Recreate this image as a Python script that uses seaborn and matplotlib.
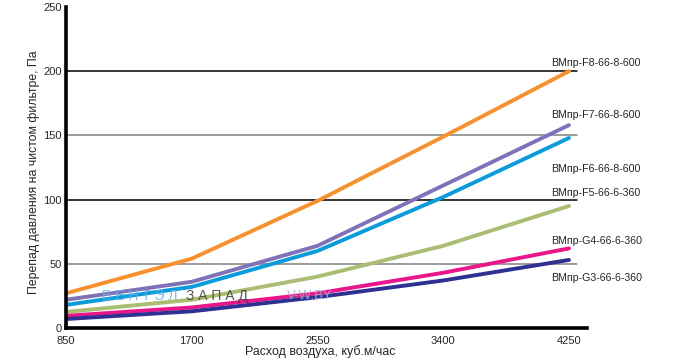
import matplotlib
matplotlib.use("Agg")
import matplotlib.pyplot as plt
import seaborn as sns
import pandas as pd

# air flow, m3/h
flow = [850, 1700, 2550, 3400, 4250]

# pressure drop on clean filter, Pa
f8 = [27, 54, 99, 149, 200]
f7 = [22, 36, 64, 111, 158]
f6 = [18, 32, 60, 102, 148]
f5 = [12.5, 22, 40, 64, 95]
g4 = [9.5, 16, 27, 43, 62]
g3 = [7, 13, 24, 37, 53]

models = ["ВМпр-F8-66-8-600", "ВМпр-F7-66-8-600", "ВМпр-F6-66-8-600",
          "ВМпр-F5-66-6-360", "ВМпр-G4-66-6-360", "ВМпр-G3-66-6-360"]
series = [f8, f7, f6, f5, g4, g3]
colors = ["#F7912F", "#7F72B8", "#0A9BDB", "#AABD72", "#E8168A", "#2E3192"]
# where each model name sits on the right (Pa)
label_y = [206, 166, 124, 105.5, 68, 39]

yticks = [0, 50, 100, 150, 200, 250]

df = pd.DataFrame({
    "flow": flow * len(models),
    "dp": [v for s in series for v in s],
    "model": [m for m in models for _ in flow],
})

sns.set_style("white")
plt.rcParams["font.family"] = ["Liberation Sans", "DejaVu Sans"]

fig = plt.figure(figsize=(6.79, 3.64), dpi=100)
ax = fig.add_axes([66 / 679, 1 - 328 / 364, (587 - 66) / 679, (328 - 7) / 364])

x_right = 4372
ax.set_xlim(850, x_right)
ax.set_ylim(0, 250)

# grid, alternating black / grey, ending a bit past the last point
grid_end = (4305 - 850) / (x_right - 850)
for v in [50, 100, 150, 200]:
    ax.axhline(v, xmin=0, xmax=grid_end, color="#808080" if v in (50, 150) else "black",
               lw=1.1, zorder=1)

# watermark
ax.text(1093, 25, "В Е Н Т Э Л", color="#6AAFE4", alpha=0.85, fontsize=10,
        va="center", zorder=3)
ax.text(1660, 25, "З А П А Д", color="#3A3A3A", alpha=0.85, fontsize=10,
        va="center", zorder=3)
ax.text(2345, 25, "V-W.BY", color="#A3B2CC", alpha=0.85, fontsize=9.5,
        va="center", zorder=3)

sns.lineplot(data=df, x="flow", y="dp", hue="model", hue_order=models,
             palette=colors, lw=2.8, legend=False, ax=ax, zorder=2)

for name, yv in zip(models, label_y):
    ax.text(4130, yv, name, fontsize=7.7, va="center", ha="left", clip_on=False)

ax.set_xticks(flow)
ax.set_yticks(yticks)
ax.tick_params(axis="x", direction="out", length=4, width=3, color="black",
               labelsize=8, pad=1.5)
ax.tick_params(axis="y", length=0, labelsize=8, pad=3)

for side in ["top", "right"]:
    ax.spines[side].set_visible(False)
for side in ["left", "bottom"]:
    ax.spines[side].set_color("black")
    ax.spines[side].set_linewidth(2.6)

ax.set_xlabel("Расход воздуха, куб.м/час", fontsize=8.9)
ax.set_ylabel("Перепад давления на чистом фильтре, Па", fontsize=8.8)
ax.xaxis.set_label_coords((320 - 66) / (587 - 66), -17 / 321)
ax.yaxis.set_label_coords(-(66 - 40) / 521, (328 - 172) / 321)

fig.savefig("out.png", dpi=100)
